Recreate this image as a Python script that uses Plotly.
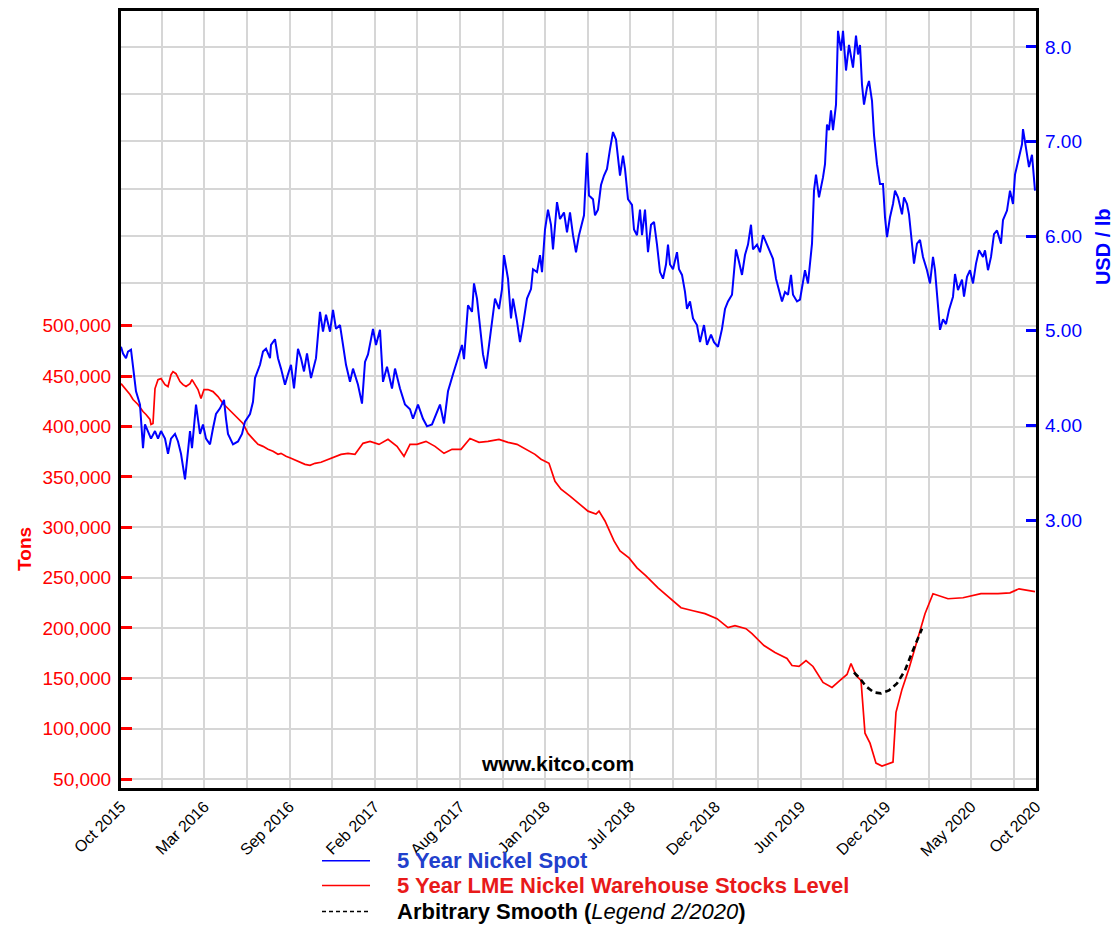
import plotly.graph_objects as go

# ---------------- data ----------------
# x positions are days since 1 Oct 2015
spot_day = [0, 4, 10, 14, 20, 24, 30, 38, 44, 48, 54, 60, 68, 74, 80, 88, 94, 100, 108, 114,
            120, 128, 134, 138, 142, 150, 158, 164, 170, 178, 184, 190, 198, 206, 210, 214, 224,
            234, 242, 248, 258, 264, 268, 278, 284, 290, 298, 300, 308, 314, 320, 328, 334, 340,
            346, 354, 360, 366, 372, 380, 390, 398, 404, 410, 418, 424, 430, 438, 444, 450, 458,
            464, 474, 482, 488, 494, 504, 510, 518, 524, 532, 542, 548, 558, 568, 578, 584, 594,
            604, 612, 622, 632, 638, 646, 654, 664, 674, 682, 686, 694, 702, 706, 712, 718, 724,
            730, 734, 742, 748, 756, 762, 766, 774, 780, 784, 792, 798, 804, 812, 820, 824, 832,
            838, 842, 848, 854, 860, 864, 872, 878, 886, 892, 898, 904, 910, 916, 926, 932, 936,
            944, 948, 954, 960, 966, 972, 978, 984, 990, 994, 998, 1004, 1008, 1014, 1022, 1026,
            1032, 1038, 1042, 1048, 1054, 1060, 1066, 1072, 1078, 1084, 1090, 1094, 1098, 1104,
            1112, 1116, 1122, 1128, 1132, 1138, 1144, 1152, 1158, 1166, 1172, 1180, 1186, 1194,
            1202, 1208, 1214, 1222, 1226, 1230, 1236, 1242, 1248, 1254, 1260, 1264, 1272, 1278,
            1284, 1290, 1296, 1304, 1310, 1316, 1322, 1328, 1334, 1340, 1344, 1352, 1358, 1368,
            1374, 1382, 1386, 1390, 1396, 1404, 1408, 1412, 1416, 1420, 1424, 1430, 1434, 1440,
            1444, 1450, 1456, 1464, 1470, 1474, 1478, 1482, 1486, 1492, 1496, 1502, 1506, 1512,
            1518, 1524, 1528, 1532, 1538, 1544, 1548, 1554, 1562, 1566, 1572, 1576, 1582, 1586,
            1592, 1598, 1604, 1612, 1618, 1624, 1628, 1632, 1638, 1644, 1650, 1656, 1664, 1668,
            1674, 1682, 1686, 1692, 1698, 1704, 1710, 1716, 1724, 1728, 1734, 1740, 1746, 1752,
            1760, 1764, 1772, 1778, 1784, 1788, 1794, 1802, 1804, 1810, 1816, 1822, 1828]
spot_usd = [4.83, 4.76, 4.71, 4.78, 4.80, 4.60, 4.36, 4.22, 3.76, 4.01, 3.94, 3.86, 3.94, 3.86,
            3.94, 3.86, 3.70, 3.86, 3.91, 3.83, 3.70, 3.43, 3.73, 3.94, 3.76, 4.22, 3.91, 4.01,
            3.86, 3.80, 3.97, 4.12, 4.18, 4.27, 4.07, 3.91, 3.80, 3.83, 3.91, 4.04, 4.12, 4.25,
            4.50, 4.64, 4.78, 4.81, 4.71, 4.85, 4.91, 4.71, 4.60, 4.43, 4.54, 4.64, 4.39, 4.81,
            4.71, 4.57, 4.76, 4.50, 4.71, 5.20, 4.99, 5.17, 4.99, 5.22, 5.02, 5.06, 4.85, 4.64,
            4.46, 4.60, 4.43, 4.23, 4.67, 4.75, 5.02, 4.85, 5.01, 4.46, 4.62, 4.39, 4.60, 4.39,
            4.22, 4.17, 4.07, 4.22, 4.07, 3.99, 4.01, 4.15, 4.22, 4.02, 4.36, 4.54, 4.71, 4.85,
            4.70, 5.27, 5.20, 5.50, 5.34, 5.06, 4.75, 4.60, 4.76, 5.06, 5.34, 5.23, 5.44, 5.80,
            5.55, 5.13, 5.34, 5.10, 4.88, 5.06, 5.34, 5.44, 5.65, 5.62, 5.80, 5.62, 6.07, 6.28,
            6.12, 5.86, 6.36, 6.18, 6.25, 6.04, 6.25, 6.01, 5.83, 6.01, 6.22, 6.88, 6.43, 6.39,
            6.22, 6.28, 6.54, 6.64, 6.71, 6.92, 7.10, 7.02, 6.85, 6.64, 6.85, 6.71, 6.39, 6.33,
            6.07, 6.01, 6.28, 6.01, 6.28, 5.83, 6.12, 6.15, 5.91, 5.62, 5.55, 5.70, 5.91, 5.70,
            5.65, 5.83, 5.65, 5.59, 5.41, 5.23, 5.31, 5.13, 5.06, 4.88, 5.06, 4.85, 4.96, 4.88,
            4.83, 5.02, 5.23, 5.31, 5.38, 5.65, 5.86, 5.73, 5.59, 5.80, 5.91, 6.12, 5.86, 5.91,
            5.83, 6.01, 5.94, 5.86, 5.76, 5.55, 5.44, 5.31, 5.41, 5.38, 5.59, 5.38, 5.31, 5.33,
            5.64, 5.50, 5.92, 6.48, 6.65, 6.41, 6.62, 6.76, 7.18, 7.12, 7.33, 7.12, 7.39, 8.17,
            7.96, 8.17, 7.75, 8.02, 7.78, 8.12, 7.92, 8.02, 7.60, 7.39, 7.57, 7.64, 7.43, 7.07,
            6.76, 6.55, 6.55, 6.20, 5.99, 6.20, 6.34, 6.48, 6.41, 6.23, 6.41, 6.34, 6.23, 5.92,
            5.71, 5.92, 5.96, 5.78, 5.64, 5.50, 5.78, 5.64, 5.39, 5.01, 5.12, 5.07, 5.22, 5.36,
            5.60, 5.43, 5.54, 5.36, 5.57, 5.64, 5.50, 5.71, 5.85, 5.78, 5.85, 5.64, 5.78, 6.02,
            6.06, 5.92, 6.17, 6.27, 6.48, 6.34, 6.65, 6.80, 6.97, 7.13, 6.91, 6.73, 6.86, 6.48]

stocks_day = [0, 8, 18, 24, 34, 44, 50, 58, 60, 64, 68, 74, 80, 88, 94, 100, 104, 110, 118, 124,
              130, 138, 142, 148, 154, 160, 166, 174, 184, 194, 204, 214, 224, 234, 244, 254, 264,
              274, 284, 294, 304, 314, 320, 330, 340, 354, 368, 378, 388, 400, 414, 428, 440, 454,
              468, 484, 498, 516, 534, 552, 566, 578, 592, 610, 628, 646, 662, 680, 698, 716, 734,
              756, 774, 792, 810, 828, 840, 856, 868, 880, 898, 916, 934, 950, 956, 968, 986, 998,
              1016, 1032, 1050, 1074, 1098, 1120, 1144, 1168, 1192, 1214, 1228, 1250, 1262, 1286,
              1308, 1332, 1342, 1356, 1370, 1384, 1404, 1422, 1438, 1452, 1460, 1470, 1480, 1488,
              1498, 1510, 1522, 1544, 1550, 1562, 1576, 1594, 1608, 1624, 1638, 1654, 1684, 1720,
              1754, 1778, 1796, 1814, 1828]
stocks_kt = [442.6, 437.7, 431.8, 426.8, 421.9, 414.9, 412.0, 407.0, 402.1, 403.1, 437.7, 446.6,
             447.6, 441.6, 439.7, 451.5, 454.5, 452.5, 444.6, 441.6, 439.7, 442.6, 446.6, 441.6,
             436.7, 427.8, 436.7, 436.7, 434.7, 429.8, 422.9, 417.9, 413.0, 408.0, 403.1, 393.2,
             387.3, 382.3, 380.3, 377.4, 375.4, 372.4, 373.4, 370.4, 368.5, 365.5, 362.5, 361.5,
             363.5, 364.5, 367.5, 370.4, 372.4, 373.4, 372.4, 383.3, 385.3, 382.3, 387.3, 380.3,
             370.4, 382.3, 382.3, 385.3, 380.3, 373.4, 377.4, 377.4, 388.2, 384.3, 385.3, 387.3,
             384.3, 382.3, 377.4, 372.4, 367.5, 363.5, 345.7, 337.8, 330.9, 323.0, 316.0, 313.1,
             316.0, 306.2, 286.4, 276.5, 269.6, 259.7, 251.8, 239.9, 230.0, 220.1, 217.1, 214.2,
             209.2, 200.3, 202.3, 199.3, 194.4, 182.5, 175.6, 169.7, 162.7, 161.8, 167.7, 161.8,
             145.9, 141.0, 147.9, 153.8, 164.7, 152.9, 147.9, 95.5, 85.6, 65.8, 62.9, 66.8,
             116.3, 139.0, 159.8, 190.4, 214.2, 234.0, 232.0, 229.0, 230.0, 234.0, 234.0, 234.9,
             238.9, 236.9, 236.0]

smooth_day = [1466, 1478, 1490, 1506, 1520, 1536, 1552, 1568, 1582, 1596, 1602]
smooth_kt = [155.8, 149.9, 142.0, 136.0, 135.1, 138.0, 144.9, 157.8, 175.6, 193.4, 199.3]

x_labels = ["Oct 2015", "Mar 2016", "Sep 2016", "Feb 2017", "Aug 2017", "Jan 2018",
            "Jul 2018", "Dec 2018", "Jun 2019", "Dec 2019", "May 2020", "Oct 2020"]
tons_ticks = [50000, 100000, 150000, 200000, 250000, 300000, 350000, 400000, 450000, 500000]
usd_ticks = [3, 4, 5, 6, 7, 8]
usd_ticktext = ["3.00", "4.00", "5.00", "6.00", "7.00", "8.0"]
usd_extra_grid = [5.5, 6, 6.5, 7, 7.5, 8]

legend_names = ["5 Year Nickel Spot", "5 Year LME Nickel Warehouse Stocks Level",
                "Arbitrary Smooth (<i>Legend 2/2020</i>)"]

# ---------------- styling ----------------
FONT = "Liberation Sans, Arial, sans-serif"
GRID = "#d6d6d6"
BLUE = "#0000ff"
RED = "#ff0000"
X_END = 1830
grid_days = [81.4 + 85.2 * k for k in range(21)]

tickvals = [0] + grid_days + [X_END]
ticktext = [x_labels[0]] + [x_labels[1 + k // 2] if k % 2 == 1 else "" for k in range(21)] + [x_labels[-1]]

fig = go.Figure()
fig.add_trace(go.Scatter(x=stocks_day, y=[v * 1000 for v in stocks_kt], mode="lines",
                         line=dict(color=RED, width=1.7), yaxis="y", showlegend=False,
                         hoverinfo="skip"))
fig.add_trace(go.Scatter(x=smooth_day, y=[v * 1000 for v in smooth_kt], mode="lines",
                         line=dict(color="black", width=2.6, dash="6px,4px"), yaxis="y",
                         showlegend=False, hoverinfo="skip"))
fig.add_trace(go.Scatter(x=spot_day, y=spot_usd, mode="lines",
                         line=dict(color=BLUE, width=2), yaxis="y2", showlegend=False,
                         hoverinfo="skip"))
fig.add_trace(go.Scatter(x=[None], y=[None], yaxis="y3", showlegend=False, hoverinfo="skip"))

fig.update_layout(
    width=1117, height=926, autosize=False,
    margin=dict(l=121, r=81, t=8, b=138),
    paper_bgcolor="white", plot_bgcolor="white",
    font=dict(family=FONT, color="black"),
    xaxis=dict(range=[0, X_END], tickmode="array", tickvals=tickvals, ticktext=ticktext,
               tickangle=-45, tickfont=dict(size=16, color="black"), ticks="",
               showgrid=True, gridcolor=GRID, gridwidth=2, zeroline=False,
               showline=True, linecolor="black", linewidth=3, mirror=True),
    yaxis=dict(range=[41100, 812600], tickmode="array", tickvals=tons_ticks,
               ticktext=[f"{v:,}" for v in tons_ticks],
               tickfont=dict(size=19, color=RED), ticks="inside", ticklen=11, tickwidth=3,
               tickcolor=RED, ticklabelstandoff=3,
               showgrid=True, gridcolor=GRID, gridwidth=2, zeroline=False,
               showline=True, linecolor="black", linewidth=3, mirror=True),
    yaxis2=dict(overlaying="y", side="right", range=[0.168, 8.379], tickmode="array",
                tickvals=usd_ticks, ticktext=usd_ticktext,
                tickfont=dict(size=19, color=BLUE), ticks="inside", ticklen=10, tickwidth=3,
                tickcolor=BLUE, ticklabelstandoff=8,
                showgrid=False, zeroline=False, showline=False),
    yaxis3=dict(overlaying="y", side="right", range=[0.168, 8.379], tickmode="array",
                tickvals=usd_extra_grid, showticklabels=False, ticks="",
                showgrid=True, gridcolor=GRID, gridwidth=2, zeroline=False, showline=False),
)

def px_x(px):
    return (px - 121) / 915.0

def px_y(py):
    return (788 - py) / 780.0

annotations = [
    dict(text="<b>Tons</b>", x=px_x(25), y=px_y(548), textangle=-90,
         font=dict(size=19, color=RED)),
    dict(text="<b>USD / lb</b>", x=px_x(1103), y=px_y(245), textangle=-90,
         font=dict(size=20, color=BLUE)),
    dict(text="<b>www.kitco.com</b>", x=px_x(557), y=px_y(763),
         font=dict(size=21, color="black")),
]
legend_colors = ["#2140cc", "#e81a1a", "black"]
legend_dash = ["solid", "solid", "dash"]
legend_line_colors = [BLUE, RED, "black"]
legend_y = [861, 886, 912]
shapes = []
for name, col, lc, dsh, ly in zip(legend_names, legend_colors, legend_line_colors,
                                   legend_dash, legend_y):
    if "<i>" in name:
        label = "<b>Arbitrary Smooth (</b>" + name[len("Arbitrary Smooth ("):-1] + "<b>)</b>"
    else:
        label = f"<b>{name}</b>"
    annotations.append(dict(text=label, x=px_x(395), y=px_y(ly), xanchor="left",
                            yanchor="middle", font=dict(size=22, color=col)))
    shapes.append(dict(type="line", xref="paper", yref="paper", x0=px_x(322), x1=px_x(370),
                       y0=px_y(ly), y1=px_y(ly),
                       line=dict(color=lc, width=1.5, dash="4px,3px" if dsh == "dash" else "solid")))

for a in annotations:
    a.update(xref="paper", yref="paper", showarrow=False)
    a.setdefault("xanchor", "center")
    a.setdefault("yanchor", "middle")

fig.update_layout(annotations=annotations, shapes=shapes)
fig.write_html("out.html", config={"displayModeBar": False},
               post_script="document.body.style.margin='0';")
